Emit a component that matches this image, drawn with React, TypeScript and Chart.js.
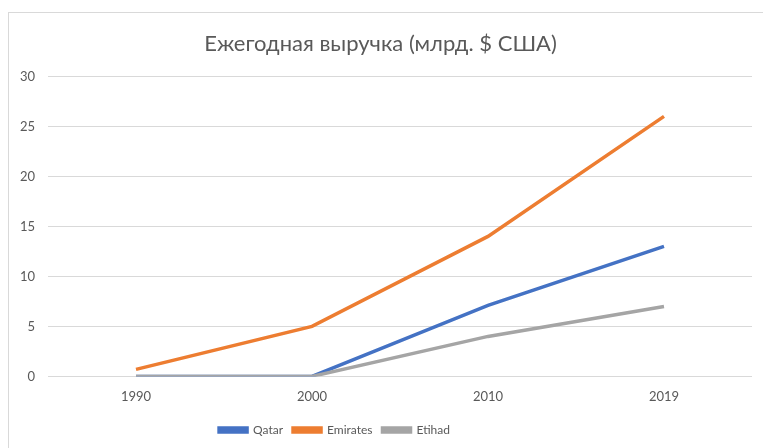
import React, { useEffect, useRef } from "react";
import { Chart, registerables } from "chart.js";

Chart.register(...registerables);

const title = "Ежегодная выручка (млрд. $ США)";
const years = ["1990", "2000", "2010", "2019"];
const qatar = [0, 0, 7.1, 13];
const emirates = [0.7, 5, 14, 26];
const etihad = [0, 0, 4, 7];
const yTicks = [0, 5, 10, 15, 20, 25, 30];

const FONT = "Lato, 'Open Sans', sans-serif";
const TEXT = "#595959";

const legendShift = {
  id: "legendShift",
  afterLayout(chart: any) {
    const lg = chart.legend;
    if (!lg) return;
    lg.right -= 92;
    lg.top += 4;
    lg.bottom += 4;
  },
};

export default function App() {
  const ref = useRef<HTMLCanvasElement | null>(null);
  useEffect(() => {
    if (!ref.current) return;
    const chart = new Chart(ref.current, {
      type: "line",
      data: {
        labels: years,
        datasets: [
          { label: "Qatar", data: qatar, borderColor: "#4472C4", backgroundColor: "#4472C4", order: 2 },
          { label: "Emirates", data: emirates, borderColor: "#ED7D31", backgroundColor: "#ED7D31", order: 1 },
          { label: "Etihad", data: etihad, borderColor: "#A5A5A5", backgroundColor: "#A5A5A5", order: 0 },
        ].map((d) => ({ ...d, borderWidth: 3.5, pointRadius: 0, tension: 0, fill: false })),
      },
      plugins: [legendShift],
      options: {
        animation: false,
        responsive: false,
        maintainAspectRatio: false,
        layout: { padding: { left: 0, right: 11, top: 0, bottom: 6 } },
        plugins: {
          title: {
            display: true,
            text: title,
            color: TEXT,
            font: { family: FONT, size: 22, weight: "normal" },
            padding: { top: 18, bottom: 19 },
          },
          legend: {
            position: "bottom",
            labels: {
              color: TEXT,
              font: { family: FONT, size: 12 },
              boxWidth: 28,
              boxHeight: 4,
              padding: 10,
              sort: (a, b) => (a.datasetIndex ?? 0) - (b.datasetIndex ?? 0),
            },
          },
          tooltip: { enabled: false },
        },
        scales: {
          x: {
            type: "category",
            offset: true,
            grid: { display: false },
            border: { display: false },
            ticks: { color: TEXT, font: { family: FONT, size: 13 }, padding: 5, maxRotation: 0 },
          },
          y: {
            min: 0,
            max: 30,
            afterBuildTicks: (s: any) => {
              s.ticks = yTicks.map((v) => ({ value: v }));
            },
            afterFit: (s: any) => {
              s.width = 39;
            },
            grid: { color: "#d9d9d9", drawTicks: false, lineWidth: 1 },
            border: { display: false },
            ticks: { color: TEXT, font: { family: FONT, size: 13 }, padding: 13 },
          },
        },
      },
    });
    return () => chart.destroy();
  }, []);
  return (
    <div
      style={{
        position: "absolute",
        left: 8,
        top: 12,
        width: 754,
        height: 435,
        borderTop: "1px solid #d9d9d9",
        borderLeft: "1px solid #d9d9d9",
        background: "#fff",
      }}
    >
      <canvas ref={ref} width={754} height={435} style={{ display: "block", width: 754, height: 435 }} />
    </div>
  );
}
